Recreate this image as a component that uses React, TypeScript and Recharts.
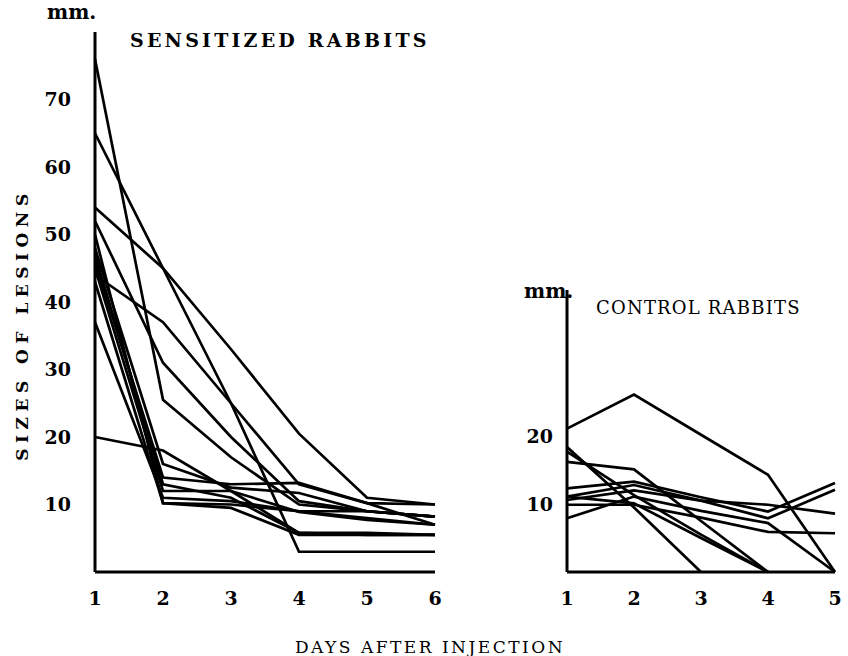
import { LineChart, Line, XAxis, YAxis } from 'recharts'

// sensitized rabbits, lesion size (mm) on days 1-6
const sensDays = [1, 2, 3, 4, 5, 6]
const sensSeries: number[][] = [
  [76, 25.5, 17, 10, 9, 8.2],
  [65, 45, 25, 3, 3, 3],
  [54, 45, 33, 20.5, 11, 10],
  [52, 31, 20, 10.5, 9, 8.2],
  [44, 37, 25, 13, 10.2, 7],
  [37, 11, 10.5, 9, 8, 7],
  [20, 18, 12, 5.8, 5.5, 5.5],
  [48, 16, 12.5, 11.7, 9, 8.2],
  [46, 14, 13, 13.2, 10.2, 10],
  [45, 12, 12, 8.9, 7.7, 7],
  [50, 10.2, 10, 9, 9, 8.2],
  [43, 10.2, 9.5, 5.5, 5.5, 5.5],
  [47, 13, 11, 5.8, 5.8, 5.5],
]
const sensTicksY = [10, 20, 30, 40, 50, 60, 70]

// control rabbits, days 1-5 (null = no further reading)
const ctrlDays = [1, 2, 3, 4, 5]
const ctrlSeries: (number | null)[][] = [
  [21.1, 26.1, 20.2, 14.3, 0],
  [16.2, 15.1, 7.5, 0, null],
  [18.4, 9.5, 0, null, null],
  [17.7, 11.3, 5.5, 0, null],
  [12.3, 13.3, 11, 8.9, 13.1],
  [11.1, 12.8, 10.5, 7.9, 12.1],
  [10.6, 12, 10.5, 9.9, 8.6],
  [9.9, 9.9, 8, 5.9, 5.7],
  [7.9, 11.1, 9, 7.2, 0],
  [11.1, 10.1, 5, 0, null],
]
const ctrlTicksY = [10, 20]

const sensData = sensDays.map((d, i) => {
  const row: Record<string, number | null> = { day: d }
  sensSeries.forEach((s, k) => (row['s' + k] = s[i]))
  return row
})
const ctrlData = ctrlDays.map((d, i) => {
  const row: Record<string, number | null> = { day: d }
  ctrlSeries.forEach((s, k) => (row['c' + k] = s[i]))
  return row
})

const tickFont = {
  fill: '#000',
  fontSize: 19,
  fontWeight: 700,
  fontFamily: 'DejaVu Serif',
}
const axisLine = { stroke: '#000', strokeWidth: 3 }

const abs = (left: number, top: number, extra: React.CSSProperties = {}) =>
  ({
    position: 'absolute',
    left,
    top,
    lineHeight: 1,
    whiteSpace: 'nowrap',
    color: '#000',
    ...extra,
  }) as React.CSSProperties

export default function App() {
  return (
    <div
      style={{
        position: 'absolute',
        left: 0,
        top: 0,
        width: 848,
        height: 656,
        background: '#fff',
      }}
    >
      <div style={{ position: 'absolute', left: 0, top: 0 }}>
        <LineChart
          width={460}
          height={620}
          data={sensData}
          margin={{ top: 32, right: 25, left: 0, bottom: 0 }}
        >
          <XAxis
            dataKey='day'
            type='number'
            domain={[1, 6]}
            ticks={sensDays}
            height={48}
            tickLine={false}
            axisLine={axisLine}
            tick={tickFont}
            tickMargin={14}
          />
          <YAxis
            type='number'
            domain={[0, 80]}
            ticks={sensTicksY}
            width={95}
            tickLine={false}
            axisLine={axisLine}
            tick={tickFont}
            tickMargin={18}
          />
          {sensSeries.map((_, k) => (
            <Line
              key={k}
              dataKey={'s' + k}
              type='linear'
              stroke='#000'
              strokeWidth={2.7}
              dot={false}
              isAnimationActive={false}
            />
          ))}
        </LineChart>
      </div>

      <div style={{ position: 'absolute', left: 500, top: 0 }}>
        <LineChart
          width={348}
          height={620}
          data={ctrlData}
          margin={{ top: 290, right: 13, left: 0, bottom: 0 }}
        >
          <XAxis
            dataKey='day'
            type='number'
            domain={[1, 5]}
            ticks={ctrlDays}
            height={48}
            tickLine={false}
            axisLine={axisLine}
            tick={tickFont}
            tickMargin={14}
          />
          <YAxis
            type='number'
            domain={[0, 41.5]}
            ticks={ctrlTicksY}
            width={67}
            tickLine={false}
            axisLine={axisLine}
            tick={tickFont}
            tickMargin={8}
          />
          {ctrlSeries.map((_, k) => (
            <Line
              key={k}
              dataKey={'c' + k}
              type='linear'
              stroke='#000'
              strokeWidth={2.7}
              dot={false}
              connectNulls={false}
              isAnimationActive={false}
            />
          ))}
        </LineChart>
      </div>

      <div style={abs(47, 2, { fontFamily: 'DejaVu Serif', fontWeight: 700, fontSize: 20 })}>
        mm.
      </div>
      <div
        style={abs(130, 31, {
          fontFamily: 'DejaVu Serif',
          fontWeight: 700,
          fontSize: 19,
          letterSpacing: 3.2,
        })}
      >
        SENSITIZED RABBITS
      </div>
      <div style={abs(524, 281, { fontFamily: 'DejaVu Serif', fontWeight: 700, fontSize: 20 })}>
        mm.
      </div>
      <div
        style={abs(596, 299, {
          fontFamily: 'DejaVu Serif',
          fontSize: 18,
          letterSpacing: 1.2,
        })}
      >
        CONTROL RABBITS
      </div>
      <div
        style={abs(-125, 316, {
          width: 294,
          textAlign: 'center',
          transform: 'rotate(-90deg)',
          fontFamily: 'DejaVu Serif',
          fontWeight: 700,
          fontSize: 17,
          letterSpacing: 5.5,
        })}
      >
        SIZES OF LESIONS
      </div>
      <div
        style={abs(218, 639, {
          width: 424,
          textAlign: 'center',
          fontFamily: 'DejaVu Serif',
          fontSize: 17,
          letterSpacing: 2.5,
        })}
      >
        DAYS AFTER INJECTION
      </div>
    </div>
  )
}
